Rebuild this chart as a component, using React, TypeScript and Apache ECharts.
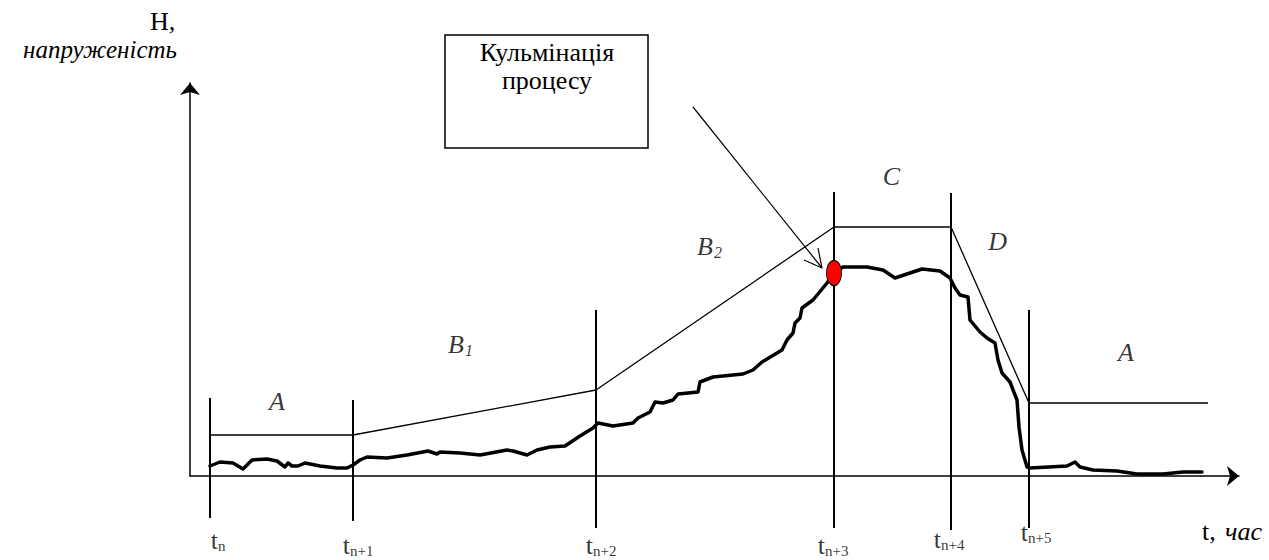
import React, { useEffect, useRef } from "react";
import * as echarts from "echarts";

// ---- data (time units along x, tension units along y) ----
const T_POS = [2.0, 16.3, 40.6, 64.4, 76.1, 83.9];
const T_TOP = [7.8, 7.6, 16.6, 28.4, 28.3, 16.6];
const T_BOTTOM = [-4.2, -4.5, -5.2, -5.2, -5.4, -5.2];
const T_SUBS = ["n", "n+1", "n+2", "n+3", "n+4", "n+5"];
// junction between "t" and its subscript, and the label height
const T_LABEL_X = [2.8, 16.0, 40.3, 63.5, 75.1, 83.8];
const T_LABEL_Y = [-6.4, -6.9, -6.9, -6.9, -6.3, -5.6];

const ENV_T = [2.0, 16.3, 40.6, 64.4, 76.1, 83.9, 101.8];
const ENV_H = [4.1, 4.1, 8.6, 24.9, 24.9, 7.3, 7.3];

const CURVE_T = [
  2.0, 3.0, 4.3, 5.3, 6.2, 7.7, 8.7, 9.5, 9.8, 10.2, 10.8, 11.5, 13.0, 14.7, 15.7, 16.3,
  17.0, 17.7, 19.7, 21.7, 23.8, 24.7, 25.0, 27.0, 29.0, 31.7, 32.3, 33.7, 34.7, 36.0,
  37.5, 39.0, 40.3, 40.8, 41.3, 42.3, 44.3, 44.8, 46.0, 46.5, 47.3, 48.3, 48.8, 50.8,
  51.0, 52.3, 55.3, 56.3, 57.2, 59.2, 59.7, 60.3, 60.5, 61.0, 61.2, 62.3, 63.7, 64.4,
  65.3, 67.7, 69.3, 70.5, 72.0, 73.2, 75.0, 76.0, 76.5, 77.0, 77.8, 78.0, 79.0, 79.7,
  80.5, 80.8, 81.2, 82.0, 82.7, 82.9, 83.2, 83.7, 84.0, 87.7, 88.5, 89.0, 90.3, 92.7,
  94.7, 97.3, 99.3, 101.2,
];
const CURVE_H = [
  1.0, 1.4, 1.3, 0.7, 1.6, 1.7, 1.5, 0.9, 1.3, 1.0, 1.0, 1.3, 1.0, 0.8, 0.8, 1.1,
  1.6, 1.9, 1.8, 2.1, 2.5, 2.2, 2.4, 2.3, 2.1, 2.6, 2.5, 2.1, 2.6, 2.9,
  3.0, 4.0, 4.8, 5.3, 5.2, 5.0, 5.3, 5.8, 6.4, 7.4, 7.3, 7.6, 8.2, 8.4,
  9.4, 9.9, 10.2, 10.6, 11.4, 12.6, 13.6, 14.3, 15.3, 15.8, 16.8, 17.6, 19.3, 20.3,
  20.9, 20.9, 20.6, 19.8, 20.3, 20.7, 20.5, 19.8, 18.8, 18.1, 17.9, 15.6, 14.4, 13.8,
  13.3, 11.6, 10.3, 9.4, 7.6, 4.9, 2.6, 0.9, 0.8, 1.0, 1.4, 0.9, 0.6, 0.5,
  0.2, 0.2, 0.4, 0.4,
];

const PHASE_NAMES = ["A", "B", "B", "C", "D", "A"];
const PHASE_SUBS = ["", "1", "2", "", "", ""];
// right edge of the phase letter, and the label height
const PHASE_X = [9.5, 27.4, 52.3, 71.0, 81.7, 94.4];
const PHASE_Y = [7.5, 13.2, 23.0, 30.0, 23.5, 12.4];

const PEAK = [64.4, 20.3];
const ARROW_FROM = [50.3, 36.9];
const ARROW_TO = [63.2, 20.8];
const ARROW_WING_A = [61.4, 21.6];
const ARROW_WING_B = [62.8, 22.8];

const BOX_TEXT = "Кульмінація\nпроцесу";
const Y_TITLE_1 = "H,";
const Y_TITLE_2 = "напруженість";
const X_TITLE_1 = "t,";
const X_TITLE_2 = "час";

const FONT = "Liberation Serif";

function labelSeries(data: any[], italic: boolean, size: number, align: string, offset: number[]) {
  return {
    type: "scatter",
    data,
    symbolSize: 1,
    clip: false,
    silent: true,
    itemStyle: { color: "rgba(0,0,0,0)" },
    label: {
      show: true,
      position: "inside",
      align,
      verticalAlign: "middle",
      offset,
      formatter: (p: any) => p.data.text,
      fontFamily: FONT,
      fontSize: size,
      fontStyle: italic ? "italic" : "normal",
      color: "#000",
    },
    z: 6,
  };
}

export default function App() {
  const ref = useRef<HTMLDivElement>(null);
  useEffect(() => {
    if (!ref.current) return;
    const chart = echarts.init(ref.current, null, { renderer: "svg" });

    const verticals = T_POS.map((x, i) => ({
      type: "line",
      data: [
        [x, T_TOP[i]],
        [x, T_BOTTOM[i]],
      ],
      symbol: "none",
      clip: false,
      silent: true,
      lineStyle: { color: "#000", width: 2 },
      z: 3,
    }));

    const phaseMain = PHASE_X.map((x, i) => ({ value: [x, PHASE_Y[i]], text: PHASE_NAMES[i] }));
    const phaseSub = PHASE_X.map((x, i) => ({ value: [x, PHASE_Y[i]], text: PHASE_SUBS[i] })).filter(
      (d) => d.text
    );
    const tMain = T_LABEL_X.map((x, i) => ({ value: [x, T_LABEL_Y[i]], text: "t" }));
    const tSub = T_LABEL_X.map((x, i) => ({ value: [x, T_LABEL_Y[i]], text: T_SUBS[i] }));

    const option: any = {
      animation: false,
      backgroundColor: "#fff",
      textStyle: { fontFamily: FONT },
      grid: { left: 190, top: 83, right: 30, bottom: 84 },
      xAxis: {
        type: "value",
        min: 0,
        max: 104.9,
        axisLine: {
          show: true,
          onZero: false,
          symbol: ["none", "arrow"],
          symbolSize: [15, 12],
          lineStyle: { color: "#000", width: 1.5 },
        },
        axisTick: { show: false },
        axisLabel: { show: false },
        splitLine: { show: false },
      },
      yAxis: {
        type: "value",
        min: 0,
        max: 39.3,
        axisLine: {
          show: true,
          onZero: false,
          symbol: ["none", "arrow"],
          symbolSize: [15, 12],
          lineStyle: { color: "#000", width: 1.5 },
        },
        axisTick: { show: false },
        axisLabel: { show: false },
        splitLine: { show: false },
      },
      series: [
        ...verticals,
        {
          type: "line",
          data: ENV_T.map((t, i) => [t, ENV_H[i]]),
          symbol: "none",
          clip: false,
          lineStyle: { color: "#000", width: 1.3 },
          z: 3,
        },
        {
          type: "line",
          data: CURVE_T.map((t, i) => [t, CURVE_H[i]]),
          symbol: "none",
          clip: false,
          lineStyle: { color: "#000", width: 3.5, join: "round", cap: "round" },
          z: 4,
        },
        {
          type: "line",
          data: [ARROW_FROM, ARROW_TO],
          symbol: "none",
          clip: false,
          lineStyle: { color: "#000", width: 1.2 },
          z: 5,
        },
        {
          type: "line",
          data: [ARROW_WING_A, ARROW_TO, ARROW_WING_B],
          symbol: "none",
          clip: false,
          lineStyle: { color: "#000", width: 1.2 },
          z: 5,
        },
        {
          type: "scatter",
          data: [PEAK],
          symbol: "circle",
          symbolSize: [15, 25],
          clip: false,
          itemStyle: { color: "#ff0000", borderColor: "#000", borderWidth: 1, opacity: 1 },
          z: 6,
        },
        labelSeries(phaseMain, true, 26, "right", [0, 0]),
        labelSeries(phaseSub, true, 16, "left", [1, 6]),
        labelSeries(tMain, false, 26, "right", [0, 0]),
        labelSeries(tSub, false, 15, "left", [0, 6]),
      ],
      graphic: [
        {
          type: "rect",
          shape: { x: 445, y: 35, width: 203, height: 113 },
          style: { fill: "#fff", stroke: "#000", lineWidth: 1.5 },
          z: 10,
        },
        {
          type: "text",
          x: 547,
          y: 66,
          style: {
            text: BOX_TEXT,
            fontFamily: FONT,
            fontSize: 26,
            lineHeight: 28,
            align: "center",
            verticalAlign: "middle",
            fill: "#000",
          },
          z: 11,
        },
        {
          type: "text",
          x: 150,
          y: 21,
          style: {
            text: Y_TITLE_1,
            fontFamily: FONT,
            fontSize: 26,
            align: "left",
            verticalAlign: "middle",
            fill: "#000",
          },
          z: 11,
        },
        {
          type: "text",
          x: 177,
          y: 49,
          style: {
            text: Y_TITLE_2,
            fontFamily: FONT,
            fontSize: 25,
            fontStyle: "italic",
            align: "right",
            verticalAlign: "middle",
            fill: "#000",
          },
          z: 11,
        },
        {
          type: "text",
          x: 1202,
          y: 531,
          style: {
            text: X_TITLE_1,
            fontFamily: FONT,
            fontSize: 26,
            align: "left",
            verticalAlign: "middle",
            fill: "#000",
          },
          z: 11,
        },
        {
          type: "text",
          x: 1262,
          y: 531,
          style: {
            text: X_TITLE_2,
            fontFamily: FONT,
            fontSize: 26,
            fontStyle: "italic",
            align: "right",
            verticalAlign: "middle",
            fill: "#000",
          },
          z: 11,
        },
      ],
    };
    chart.setOption(option);
    return () => chart.dispose();
  }, []);
  return (
    <div
      ref={ref}
      style={{ position: "absolute", left: 0, top: 0, width: 1269, height: 560 }}
    />
  );
}
